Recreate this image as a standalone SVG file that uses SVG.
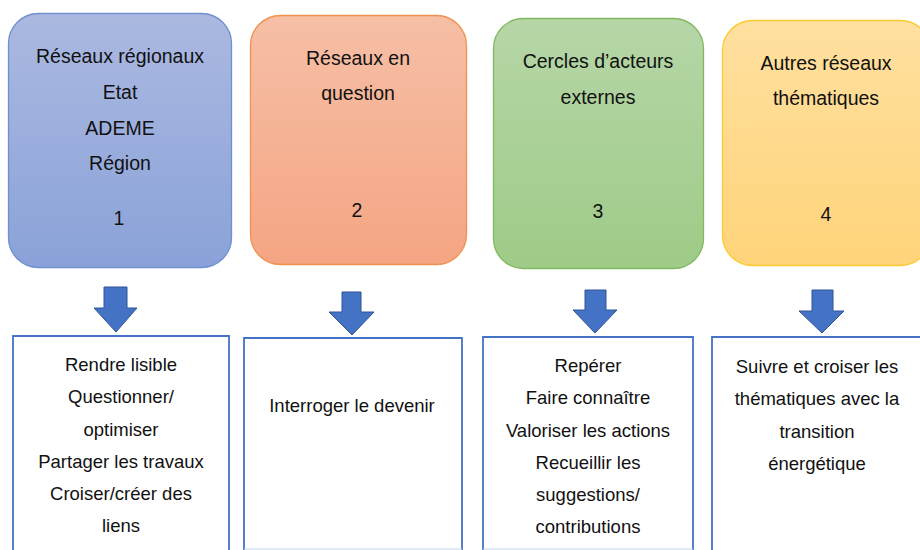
<svg xmlns="http://www.w3.org/2000/svg" width="920" height="550" viewBox="0 0 920 550">
<defs>
<linearGradient id="gBlue" x1="0" y1="0" x2="0" y2="1"><stop offset="0" stop-color="#abb9e1"/><stop offset="1" stop-color="#8aa2d8"/></linearGradient>
<linearGradient id="gOrange" x1="0" y1="0" x2="0" y2="1"><stop offset="0" stop-color="#f6bfa6"/><stop offset="1" stop-color="#f5a583"/></linearGradient>
<linearGradient id="gGreen" x1="0" y1="0" x2="0" y2="1"><stop offset="0" stop-color="#b6d6a7"/><stop offset="1" stop-color="#9ecb87"/></linearGradient>
<linearGradient id="gYellow" x1="0" y1="0" x2="0" y2="1"><stop offset="0" stop-color="#ffe0a0"/><stop offset="1" stop-color="#ffd47a"/></linearGradient>
</defs>
<style>
text{font-family:"Liberation Sans",Arial,sans-serif;font-size:19.5px;fill:#111;text-anchor:middle}
.b text{font-size:18.5px}
.top{stroke-width:1.3}
.bot{fill:#fff;stroke:#4472c4;stroke-width:1.8}
.arrow{fill:#4472c4;stroke:#2f5597;stroke-width:1}
</style>
<rect width="920" height="550" fill="#fff"/>
<g id="node1">
<rect class="top" x="8.5" y="13.5" width="223" height="254" rx="30" fill="url(#gBlue)" stroke="#6f8fcf"/>
<text x="120" y="63">Réseaux régionaux</text>
<text x="120" y="99">Etat</text>
<text x="120" y="135">ADEME</text>
<text x="120" y="170">Région</text>
<text x="119" y="225">1</text>
</g>
<g id="node2">
<rect class="top" x="250.5" y="15.5" width="216" height="249" rx="30" fill="url(#gOrange)" stroke="#f0914f"/>
<text x="358" y="65">Réseaux en</text>
<text x="358" y="100">question</text>
<text x="357" y="217">2</text>
</g>
<g id="node3">
<rect class="top" x="493.5" y="18.5" width="210" height="250" rx="30" fill="url(#gGreen)" stroke="#82b85f"/>
<text x="598" y="68">Cercles d’acteurs</text>
<text x="598" y="104">externes</text>
<text x="598" y="218">3</text>
</g>
<g id="node4">
<rect class="top" x="722.5" y="20.5" width="208" height="245" rx="30" fill="url(#gYellow)" stroke="#ffc933"/>
<text x="826" y="70">Autres réseaux</text>
<text x="826" y="105">thématiques</text>
<text x="826" y="221">4</text>
</g>
<g id="connectors">
<path class="arrow" d="M104 287H127V308H137L116 332L94 308H104Z"/>
<path class="arrow" d="M342 292H361V312H374L352 335L329 312H342Z"/>
<path class="arrow" d="M585 290H606V310H617L595 333L573 310H585Z"/>
<path class="arrow" d="M812 290H833V311H844L822 333L799 311H812Z"/>
</g>
<g id="node5" class="b">
<path class="bot" d="M13 551V336H229V551"/>
<text x="121" y="371">Rendre lisible</text>
<text x="121" y="403">Questionner/</text>
<text x="121" y="436">optimiser</text>
<text x="121" y="468">Partager les travaux</text>
<text x="121" y="500">Croiser/créer des</text>
<text x="121" y="532">liens</text>
</g>
<g id="node6" class="b">
<path class="bot" d="M244 551V338H462V551"/>
<line x1="244" y1="549" x2="462" y2="549" stroke="#c5d3ee" stroke-width="1"/>
<text x="352" y="412">Interroger le devenir</text>
</g>
<g id="node7" class="b">
<path class="bot" d="M483 551V337H693V551"/>
<line x1="483" y1="549" x2="693" y2="549" stroke="#c5d3ee" stroke-width="1"/>
<text x="588" y="372">Repérer</text>
<text x="588" y="404">Faire connaître</text>
<text x="588" y="437">Valoriser les actions</text>
<text x="588" y="469">Recueillir les</text>
<text x="588" y="501">suggestions/</text>
<text x="588" y="533">contributions</text>
</g>
<g id="node8" class="b">
<path class="bot" d="M712 551V337H925"/>
<text x="817" y="373">Suivre et croiser les</text>
<text x="817" y="405">thématiques avec la</text>
<text x="817" y="438">transition</text>
<text x="817" y="470">énergétique</text>
</g>
</svg>
